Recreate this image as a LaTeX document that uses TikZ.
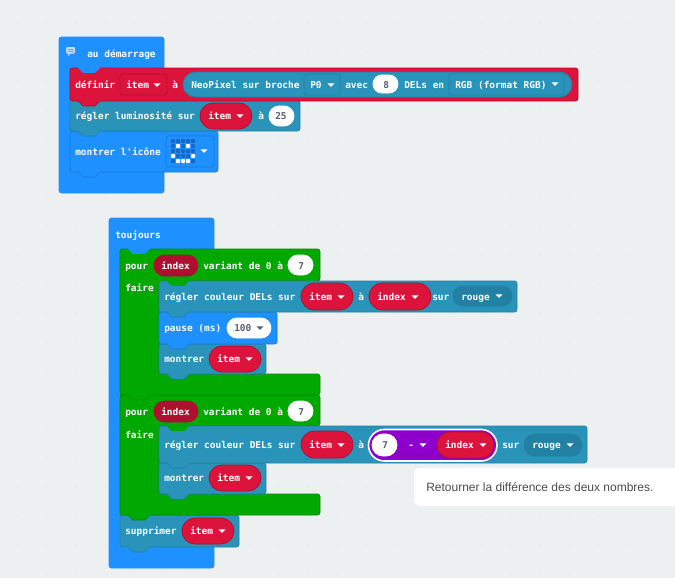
\documentclass[tikz,border=0pt]{standalone}
\usepackage{fontspec}
\newfontfamily\blockfont{DejaVu Sans Mono}
\newfontfamily\tipfont{Liberation Sans}
\definecolor{bgc}{HTML}{ECF0F1}
\definecolor{dotc}{HTML}{E3E8EA}
\definecolor{bluec}{HTML}{1E90FF}
\definecolor{blued}{HTML}{1878D8}
\definecolor{ledd}{HTML}{1468C4}
\definecolor{redc}{HTML}{DC143C}
\definecolor{redd}{HTML}{B01030}
\definecolor{tealc}{HTML}{2A93BA}
\definecolor{teald}{HTML}{2280A3}
\definecolor{greenc}{HTML}{00A800}
\definecolor{greend}{HTML}{008C00}
\definecolor{purpc}{HTML}{9000CC}
\definecolor{purpd}{HTML}{7A00AE}
\definecolor{greyt}{HTML}{575E75}
\tikzset{
  x=0.75pt,y=-0.75pt,
  blocktext/.style={font=\blockfont\bfseries\fontsize{7.1}{8}\selectfont,text=white,inner sep=0pt,anchor=base west},
  darktext/.style={blocktext,text=greyt},
  tiptext/.style={font=\tipfont\fontsize{9}{11}\selectfont,text=black!70,inner sep=0pt,anchor=base west},
}
% block: x1 y1 x2 y2 fill edge
\newcommand{\blk}[6]{\draw[fill=#5,draw=#6,line width=0.5pt,rounded corners=1.8pt] (#1,#2) rectangle (#3,#4);}
% tab hanging from level y, starting from left edge x
\newcommand{\tabdown}[4]{\draw[fill=#3,draw=#4,line width=0.4pt] ({#1+8},#2) -- ({#1+13},{#2+5}) -- ({#1+25},{#2+5}) -- ({#1+30},#2);
  \fill[#3] ({#1+8.5},{#2-0.6}) rectangle ({#1+29.5},{#2+0.4});}
% pill: x1 y1 x2 y2 fill edge
\newcommand{\pill}[6]{\pgfmathsetmacro{\prad}{(#4-#2)/2*0.75-0.01}\draw[fill=#5,draw=#6,line width=0.6pt,rounded corners=\prad pt] (#1,#2) rectangle (#3,#4);}
% dropdown field with square corners
\newcommand{\ddbox}[6]{\draw[fill=#5,draw=#6,line width=0.5pt,rounded corners=1.5pt] (#1,#2) rectangle (#3,#4);}
% arrow x y colour
\newcommand{\arr}[3]{\fill[#3] ({#1-3.5},{#2-1.7}) -- ({#1+3.5},{#2-1.7}) -- (#1,{#2+2}) -- cycle;}
% text: name x ycentre text
\newcommand{\tx}[4]{\node[blocktext] (#1) at (#2,{#3+3.4}) {#4};}
\newcommand{\dtx}[4]{\node[darktext] (#1) at (#2,{#3+3.4}) {#4};}
\begin{document}
\begin{tikzpicture}
\useasboundingbox (0,0) rectangle (675,578);
\fill[bgc] (0,0) rectangle (675,578);
\foreach \i in {0,...,23}{\foreach \j in {0,...,19}{
  \fill[dotc] ({18+29*\i},{23+29*\j}) circle (0.9);}}

% ---------- au demarrage
\blk{59}{37}{164}{193}{bluec}{bluec}
\draw[fill=white!70!bluec,draw=none,rounded corners=0.8pt] (66,47) rectangle (75,53.5);
\fill[white!70!bluec] (68,53) -- (71,53) -- (68,56) -- cycle;
\fill[bluec] (67.5,49) rectangle (73.5,49.7) (67.5,51) rectangle (73.5,51.7);
\tx{hat}{87}{54}{au démarrage}

\blk{70}{131}{218}{172}{bluec}{blued}
\tabdown{70}{172}{bluec}{blued}
\blk{70}{100}{300}{131}{tealc}{teald}
\tabdown{70}{131}{tealc}{teald}
\blk{70}{68}{578}{101}{redc}{redd}
\tabdown{70}{101}{redc}{redd}
\tabdown{70}{67.5}{bluec}{bluec}

\tx{t1}{75}{85}{définir}
\ddbox{120}{74}{167}{95}{redc}{redd}
\tx{t2}{126}{85}{item}
\arr{157}{85}{white}
\tx{t3}{172}{85}{à}
\pill{183}{72}{572}{97}{tealc}{teald}
\tx{t4}{191}{85}{NeoPixel sur broche}
\ddbox{304}{74}{340}{95}{tealc}{teald}
\tx{t5}{310}{85}{P0}
\arr{331}{85}{white}
\tx{t6}{345}{85}{avec}
\pill{373}{75}{398}{93}{white}{white}
\dtx{t7}{383}{85}{8}
\tx{t8}{404}{85}{DELs en}
\ddbox{449}{73}{564}{95}{tealc}{teald}
\tx{t9}{455}{85}{RGB (format RGB)}
\arr{555}{84}{white}

\tx{t10}{75}{116}{régler luminosité sur}
\pill{200}{103}{252}{129}{redc}{redd}
\tx{t11}{208}{116}{item}
\arr{240}{116}{white}
\tx{t12}{258}{116}{à}
\pill{269}{106}{294}{126}{white}{white}
\dtx{t13}{275}{116}{25}

\tx{t14}{75}{152}{montrer l'icône}
\ddbox{166}{136}{214}{167}{bluec}{blued}
\foreach \r/\c/\k in {0/0/0,0/1/0,0/2/0,0/3/0,0/4/0,1/0/0,1/1/1,1/2/0,1/3/1,1/4/0,2/0/0,2/1/0,2/2/0,2/3/0,2/4/0,3/0/1,3/1/0,3/2/0,3/3/0,3/4/1,4/0/0,4/1/1,4/2/1,4/3/1,4/4/0}{
  \ifnum\k=1 \fill[white,rounded corners=0.6pt] ({171+5*\c},{139+5*\r}) rectangle ({175+5*\c},{143+5*\r});
  \else \fill[ledd,rounded corners=0.6pt] ({171+5*\c},{139+5*\r}) rectangle ({175+5*\c},{143+5*\r});\fi}
\arr{204}{151}{white}

% ---------- toujours
\blk{109}{218}{214}{568}{bluec}{bluec}
\tx{t15}{115}{235}{toujours}

% supprimer
\blk{120}{515}{239}{547}{tealc}{teald}
\tabdown{120}{547}{tealc}{teald}
% second loop
\draw[fill=greenc,draw=greend,line width=0.5pt,rounded corners=1.8pt] (120,395) -- (320,395) -- (320,426) -- (159,426) -- (159,494) -- (320,494) -- (320,515) -- (120,515) -- cycle;
\tabdown{120}{515}{greenc}{greend}
% first loop
\draw[fill=greenc,draw=greend,line width=0.5pt,rounded corners=1.8pt] (120,249) -- (320,249) -- (320,281) -- (159,281) -- (159,374) -- (320,374) -- (320,395) -- (120,395) -- cycle;
\tabdown{120}{395}{greenc}{greend}
\tabdown{120}{248.5}{bluec}{bluec}

\tx{t16}{125}{266}{pour}
\pill{154}{255}{198}{276}{redd}{redd}
\tx{t17}{161}{266}{index}
\tx{t18}{203}{266}{variant de 0 à}
\pill{288}{255}{313}{275}{white}{white}
\dtx{t19}{298}{266}{7}
\tx{t20}{125}{288}{faire}

\blk{159}{344}{266}{374}{tealc}{teald}
\tabdown{159}{374}{tealc}{teald}
\blk{159}{312}{277}{344}{bluec}{blued}
\tabdown{159}{344}{bluec}{blued}
\blk{159}{281}{517}{312}{tealc}{teald}
\tabdown{159}{312}{tealc}{teald}
\tabdown{159}{280.5}{greenc}{greenc}

\tx{t21}{164}{297}{régler couleur DELs sur}
\pill{301}{283}{353}{310}{redc}{redd}
\tx{t22}{309}{297}{item}
\arr{341}{297}{white}
\tx{t23}{358}{297}{à}
\pill{369}{283}{431}{310}{redc}{redd}
\tx{t24}{377}{297}{index}
\arr{415}{297}{white}
\tx{t25}{432}{297}{sur}
\pill{453}{286}{512}{306}{teald}{teald}
\tx{t26}{461}{297}{rouge}
\arr{499}{296}{white}

\tx{t27}{164}{328}{pause (ms)}
\pill{227}{318}{271}{338}{white}{white}
\dtx{t28}{234}{328}{100}
\arr{260}{328}{greyt}

\tx{t29}{164}{359}{montrer}
\pill{209}{346}{261}{372}{redc}{redd}
\tx{t30}{217}{359}{item}
\arr{249}{359}{white}

% second loop contents
\tx{t31}{125}{412}{pour}
\pill{154}{401}{198}{422}{redd}{redd}
\tx{t32}{161}{412}{index}
\tx{t33}{203}{412}{variant de 0 à}
\pill{288}{401}{313}{421}{white}{white}
\dtx{t34}{298}{412}{7}
\tx{t35}{125}{435}{faire}

\blk{159}{463}{266}{494}{tealc}{teald}
\tabdown{159}{494}{tealc}{teald}
\blk{159}{426}{587}{463}{tealc}{teald}
\tabdown{159}{463}{tealc}{teald}
\tabdown{159}{425.5}{greenc}{greenc}

\tx{t36}{164}{445}{régler couleur DELs sur}
\pill{301}{431}{353}{458}{redc}{redd}
\tx{t37}{309}{445}{item}
\arr{341}{445}{white}
\tx{t38}{358}{445}{à}
\draw[fill=purpc,draw=white,line width=1.2pt,rounded corners=11.9pt] (368.5,429.5) rectangle (497,461);
\pill{372}{434}{397}{456}{white}{white}
\dtx{t39}{382}{445}{7}
\ddbox{402}{435}{432}{456}{purpc}{purpd}
\tx{t40}{408}{445}{-}
\arr{423}{445}{white}
\pill{437}{432}{494}{458}{redc}{redd}
\tx{t41}{445}{445}{index}
\arr{483}{445}{white}
\tx{t42}{502}{445}{sur}
\pill{524}{434}{582}{456}{teald}{teald}
\tx{t43}{532}{445}{rouge}
\arr{570}{445}{white}

\tx{t44}{164}{478}{montrer}
\pill{209}{465}{261}{491}{redc}{redd}
\tx{t45}{217}{478}{item}
\arr{249}{478}{white}

\tx{t46}{125}{531}{supprimer}
\pill{182}{518}{234}{544}{redc}{redd}
\tx{t47}{190}{531}{item}
\arr{222}{531}{white}

% tooltip
\fill[white,rounded corners=4pt] (414,468) rectangle (690,506);
\node[tiptext] (tip) at (426,491) {Retourner la différence des deux nombres.};
\end{tikzpicture}
\end{document}
